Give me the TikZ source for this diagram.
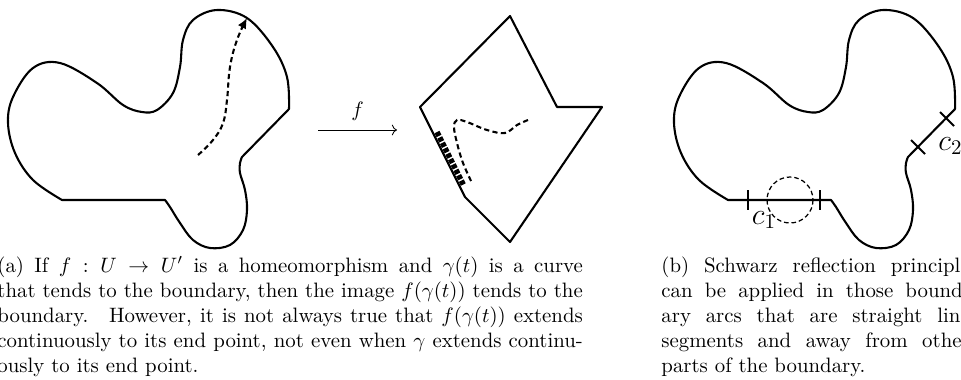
\documentclass[tikz,border=0pt]{standalone}
\usepackage{amsmath}
\usetikzlibrary{arrows.meta,positioning,calc}

% boundary of the domain U (pixel units, y downwards)
\newcommand{\blobpath}{(62,200) -- (165,200)
  -- plot[smooth, tension=0.6] coordinates {(165,200) (170,207) (180,223) (193,240) (210,248) (230,245) (243,230) (247,210) (245,190) (240,173) (240,163) (242,157)}
  -- (289,109)
  -- plot[smooth, tension=0.6] coordinates {(289,109) (287,77) (273,47) (247,18) (217,10) (193,20) (183,40) (180,67) (173,93) (157,110) (142,112) (123,105) (97,83) (60,63) (33,68) (13,97) (8,123) (15,153) (33,180) (62,200)}
  -- cycle}

\begin{document}
\begin{tikzpicture}[
    x=0.48pt, y=-0.48pt,
    boundary/.style={line width=1pt, line join=round},
    curve/.style={line width=1pt, dash pattern=on 2.5pt off 1.6pt},
    tick/.style={line width=1pt},
    caption/.style={anchor=north west, inner sep=0pt, align=left, font=\normalsize}
]
\useasboundingbox (0,0) rectangle (961,379);
\clip (0,0) rectangle (961,379);

% Domain U with a curve tending to the boundary
\draw[boundary] \blobpath;
\draw[curve, -{Latex[length=5pt,width=4.5pt]}] plot[smooth, tension=0.7] coordinates {(198,155) (213,140) (223,123) (227,100) (230,67) (237,40) (247,18)};

% The map f
\coordinate (fstart) at (318,130);
\coordinate (fend) at (397,130);
\draw[line width=0.4pt, ->] (fstart) -- (fend);
\node[above=1pt of $(fstart)!0.5!(fend)$] (flabel) {$f$};

% Image domain U'
\draw[boundary] (510,16) -- (557,107) -- (602,107) -- (510,242) -- (465,197) -- (420,107) -- cycle;
\draw[curve] plot[smooth, tension=0.6] coordinates {(528,120) (517,125) (505,133) (487,130) (467,122) (457,120) (454,127) (457,143) (463,163) (472,183)};
\draw[line width=2.6pt, dash pattern=on 2.1pt off 0.8pt] (437,132) -- (464,186);

% Domain with straight boundary arcs
\begin{scope}[shift={(666,0)}]
\draw[boundary] \blobpath;
\end{scope}
\draw[line width=0.6pt, dash pattern=on 2.2pt off 1.4pt] (790,200) circle (23);
\draw[tick] (748,190) -- (748,210);
\draw[tick] (820,190) -- (820,210);
\draw[tick] (940,112) -- (954,126);
\draw[tick] (911,140) -- (925,154);
\node[font=\Large, inner sep=0pt] (c1) at (764,220) {$c_1$};
\node[font=\Large, inner sep=0pt, anchor=west] (c2) at (938,146) {$c_2$};

% Captions
\node[caption] (capa) at (-3,256) {%
  \makebox[281pt][s]{(a) If $f : U \rightarrow U'$ is a homeomorphism and $\gamma(t)$ is a curve}\\
  \makebox[281pt][s]{that tends to the boundary, then the image $f(\gamma(t))$ tends to the}\\
  \makebox[281pt][s]{boundary. \ However, it is not always true that $f(\gamma(t))$ extends}\\
  \makebox[281pt][s]{continuously to its end point, not even when $\gamma$ extends continu-}\\
  ously to its end point.};
\node[caption] (capb) at (661,256) {%
  \makebox[148pt][s]{(b) Schwarz reflection principle}\\
  \makebox[148pt][s]{can be applied in those bound-}\\
  \makebox[148pt][s]{ary arcs that are straight line}\\
  \makebox[148pt][s]{segments and away from other}\\
  parts of the boundary.};
\end{tikzpicture}
\end{document}
